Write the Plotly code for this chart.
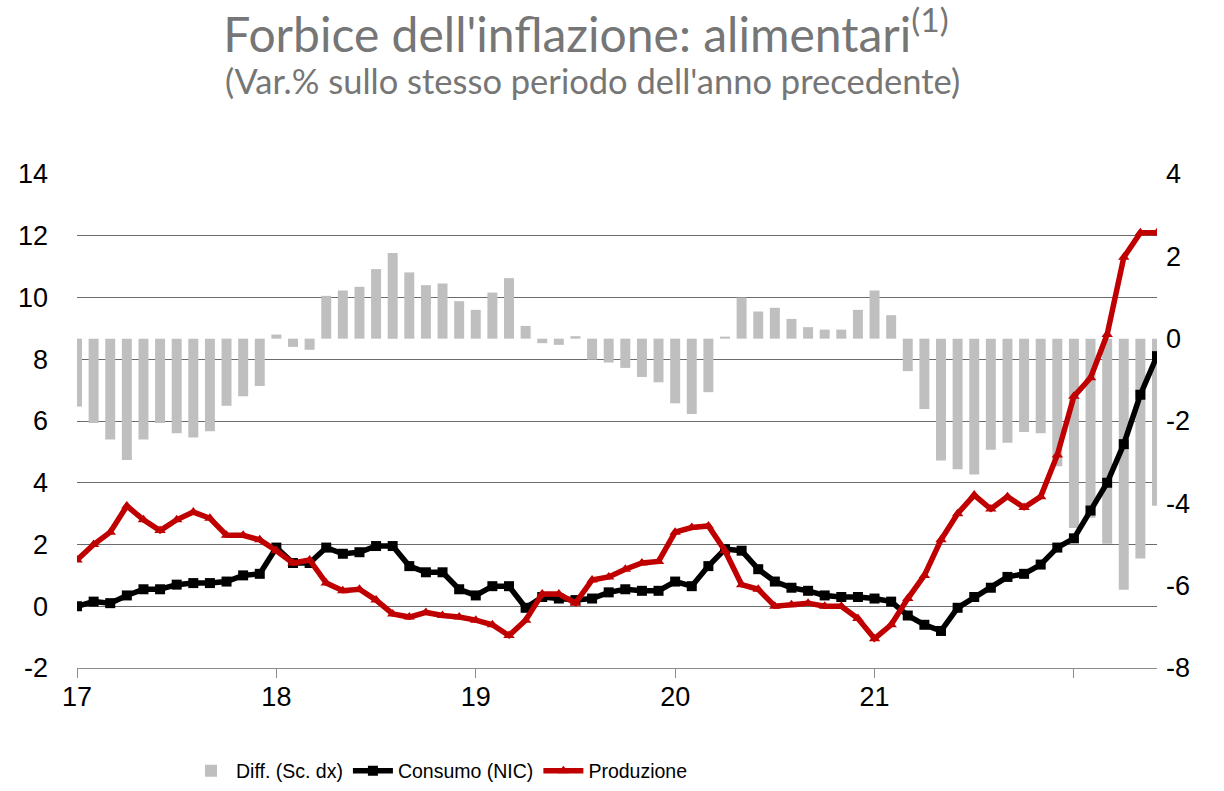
import pandas as pd
import plotly.graph_objects as go

# ---- data ----
months = [d.strftime("%Y-%m") for d in pd.date_range("2017-01-01", periods=66, freq="MS")]

diff = [-1.65, -2.05, -2.45, -2.95, -2.45, -2.05, -2.3, -2.4, -2.25, -1.63, -1.4, -1.15,
        0.1, -0.2, -0.27, 1.04, 1.17, 1.26, 1.69, 2.08, 1.61, 1.3, 1.34, 0.91,
        0.7, 1.12, 1.47, 0.31, -0.11, -0.15, 0.06, -0.51, -0.58, -0.71, -0.93, -1.06,
        -1.57, -1.83, -1.3, 0.05, 1.0, 0.66, 0.75, 0.48, 0.28, 0.22, 0.22, 0.7,
        1.17, 0.57, -0.79, -1.71, -2.96, -3.17, -3.3, -2.7, -2.53, -2.27, -2.3, -3.1,
        -4.6, -4.35, -4.98, -6.1, -5.34, -4.06]

consumo = [0.0, 0.15, 0.1, 0.35, 0.55, 0.55, 0.7, 0.75, 0.75, 0.8, 1.0, 1.05,
           1.9, 1.4, 1.4, 1.9, 1.7, 1.75, 1.95, 1.95, 1.3, 1.1, 1.1, 0.55,
           0.35, 0.65, 0.65, -0.05, 0.3, 0.25, 0.2, 0.25, 0.45, 0.55, 0.5, 0.5,
           0.8, 0.65, 1.3, 1.85, 1.8, 1.2, 0.8, 0.6, 0.5, 0.35, 0.3, 0.3,
           0.25, 0.15, -0.3, -0.6, -0.8, -0.05, 0.3, 0.6, 0.95, 1.05, 1.35, 1.9,
           2.2, 3.1, 4.0, 5.25, 6.85, 8.1]

produzione = [1.5, 2.0, 2.4, 3.25, 2.8, 2.45, 2.8, 3.05, 2.85, 2.3, 2.3, 2.15,
              1.8, 1.4, 1.5, 0.75, 0.5, 0.55, 0.2, -0.25, -0.35, -0.2, -0.3, -0.35,
              -0.45, -0.6, -0.95, -0.45, 0.4, 0.4, 0.1, 0.85, 0.95, 1.2, 1.4, 1.45,
              2.4, 2.55, 2.6, 1.8, 0.7, 0.55, 0.0, 0.05, 0.1, 0.0, 0.0, -0.4,
              -1.05, -0.6, 0.25, 1.0, 2.15, 3.0, 3.6, 3.15, 3.55, 3.2, 3.55, 4.9,
              6.8, 7.4, 8.8, 11.3, 12.1, 12.1]

year_ticks = ["2017-01", "2018-01", "2019-01", "2020-01", "2021-01", "2022-01"]
year_labels = ["17", "18", "19", "20", "21", ""]
left_ticks = [-2, 0, 2, 4, 6, 8, 10, 12, 14]
right_ticks = [-8, -6, -4, -2, 0, 2, 4]

TICK_FONT = dict(family="Liberation Sans, Arial, sans-serif", size=27, color="#000000")
LEG_FONT = dict(family="Liberation Sans, Arial, sans-serif", size=19.5, color="#000000")
TITLE_FAMILY = "Lato, Carlito, Calibri, sans-serif"

fig = go.Figure()

fig.add_trace(go.Bar(
    x=months, y=diff, name="Diff. (Sc. dx)", yaxis="y",
    marker=dict(color="#BFBFBF", line=dict(width=0)),
))
fig.add_trace(go.Scatter(
    x=months, y=consumo, name="Consumo (NIC)", yaxis="y2", mode="lines+markers",
    line=dict(color="#000000", width=5.5),
    marker=dict(symbol="square", size=10, color="#000000"),
))
fig.add_trace(go.Scatter(
    x=months, y=produzione, name="Produzione", yaxis="y2", mode="lines+markers",
    line=dict(color="#C00000", width=5.5),
    marker=dict(symbol="triangle-up", size=10, color="#C00000"),
))

fig.update_layout(
    width=1224, height=791,
    margin=dict(l=77, r=67, t=174, b=123, autoexpand=False),
    paper_bgcolor="white", plot_bgcolor="white",
    bargap=0.4,
    showlegend=True,
    title=dict(
        text="Forbice dell'inflazione: alimentari<sup>(1)</sup>",
        font=dict(family=TITLE_FAMILY, size=48, color="#767676"),
        x=586 / 1224, xanchor="center", xref="container",
        y=1 - 35 / 791, yanchor="middle", yref="container",
    ),
    xaxis=dict(
        type="category", range=[0, len(months) - 1], automargin=False,
        tickmode="array", tickvals=year_ticks, ticktext=year_labels,
        ticks="outside", ticklen=9, tickcolor="#8c8c8c", tickwidth=1.3,
        showline=True, linecolor="#8c8c8c", linewidth=1.3,
        showgrid=False, zeroline=False,
        tickfont=TICK_FONT, ticklabelstandoff=-5,
    ),
    yaxis=dict(
        side="right", range=[-8, 4], tickmode="array", tickvals=right_ticks,
        ticktext=[str(v) for v in right_ticks], automargin=False,
        showgrid=False, zeroline=False, showline=False, ticks="",
        tickfont=TICK_FONT, ticklabelstandoff=8,
    ),
    yaxis2=dict(
        side="left", overlaying="y", range=[-2, 14], tickmode="array",
        tickvals=left_ticks, ticktext=[str(v) for v in left_ticks], automargin=False,
        showgrid=True, gridcolor="#6b6b6b", gridwidth=1.2,
        zeroline=False, showline=False, ticks="",
        tickfont=TICK_FONT, ticklabelstandoff=28,
    ),
    legend=dict(
        orientation="h", x=(186 - 77) / 1080, xanchor="left",
        y=-(771 - 668) / 494, yanchor="middle",
        font=LEG_FONT, bgcolor="rgba(0,0,0,0)", itemwidth=40,
    ),
    annotations=[dict(
        text="(Var.% sullo stesso periodo dell'anno precedente)",
        xref="paper", yref="paper", x=(592 - 77) / 1080, y=(668 - 81) / 494,
        xanchor="center", yanchor="middle", showarrow=False,
        font=dict(family=TITLE_FAMILY, size=34.5, color="#767676"),
    )],
)

fig.write_html(
    "out.html",
    config={"displayModeBar": False},
    post_script="document.body.style.margin='0';document.body.style.overflow='hidden';",
)
